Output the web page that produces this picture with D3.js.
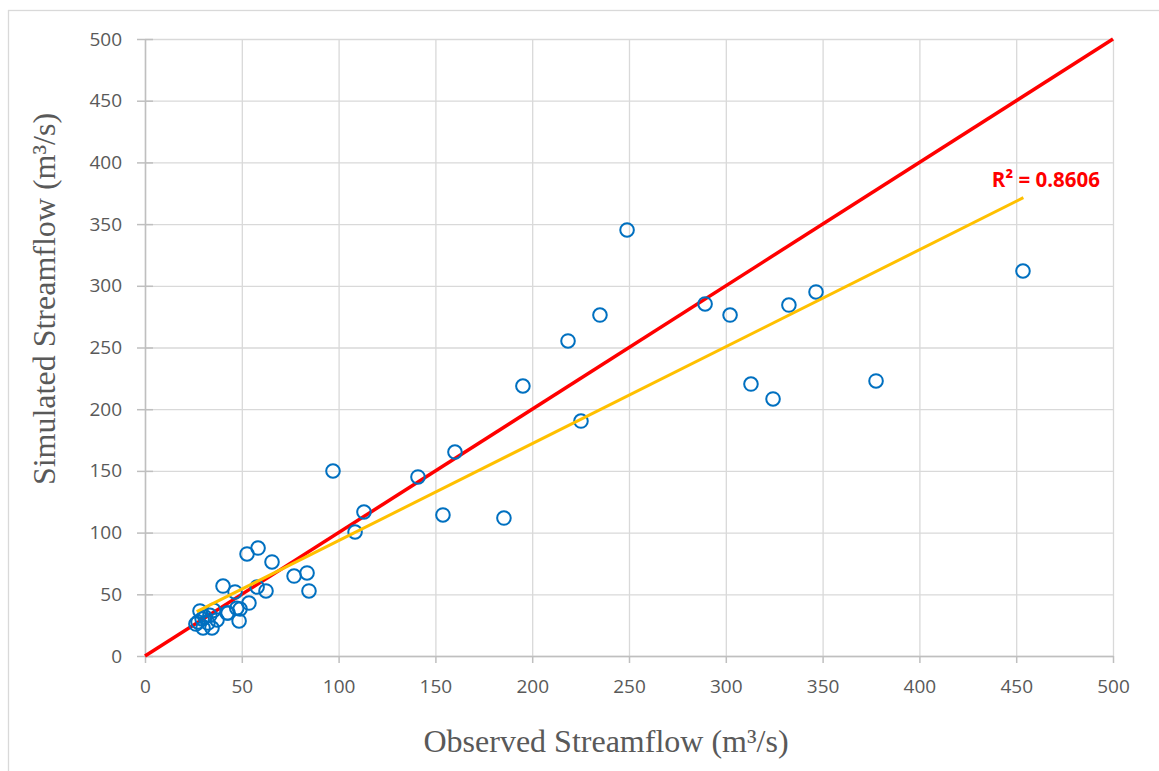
<!DOCTYPE html>
<html>
<head>
<meta charset="utf-8">
<script src="https://cdn.jsdelivr.net/npm/d3@7"></script>
<style>
  body { margin: 0; background: #fff; }
  .grid line { stroke: #d9d9d9; stroke-width: 1.3px; }
  .grid path { display: none; }
  .axis path, .axis line { stroke: #bfbfbf; stroke-width: 1.5px; }
  .axis text { fill: #595959; font-family: "Open Sans", sans-serif; font-size: 19px; }
</style>
</head>
<body>
<svg id="chart" width="1159" height="771"></svg>
<script>
// observed vs simulated streamflow (m3/s)
var observed  = [453.5, 377.6, 346.6, 332.6, 324.4, 313.0, 302.2, 289.3, 249.0, 235.0,
                 218.5, 225.2, 195.2, 185.4, 160.1, 153.9, 141.0, 113.1, 108.5,  97.1,
                  83.7,  84.7,  77.0,  65.6,  58.4,  52.7,  62.5,  57.9,  40.3,  46.5,
                  53.7,  49.1,  42.4,  48.6,  35.5,  28.4,  27.4,  26.3,  31.0,  32.5,
                  37.2,  30.0,  34.6,  42.9,  47.4,  33.5,  29.5];
var simulated = [312.0, 222.9, 295.0, 284.4, 208.3, 220.4, 276.3, 285.3, 345.2, 276.3,
                 255.3, 190.4, 218.8, 111.8, 165.3, 114.3, 145.1, 116.7, 100.5, 149.9,
                  67.3,  52.7,  64.8,  76.2,  87.5,  82.7,  52.7,  55.9,  56.7,  51.9,
                  42.9,  38.1,  34.8,  28.4,  37.0,  36.5,  27.6,  25.9,  31.6,  26.7,
                  29.2,  22.7,  22.7,  34.8,  38.7,  33.0,  30.0];

// 1:1 line and linear trendline ends
var oneToOneX = [0, 500], oneToOneY = [0, 500];
var trendX = [26.7, 453.7], trendY = [35.9, 371.4];
var rSquared = "0.8606";

var tickValues = d3.range(0, 501, 50);

var svg = d3.select("#chart");

var plotLeft = 145, plotRight = 1113, plotTop = 39, plotBottom = 656;

var x = d3.scaleLinear().domain([0, 500]).range([plotLeft, plotRight]);
var y = d3.scaleLinear().domain([0, 500]).range([plotBottom, plotTop]);

// outer frame
svg.append("rect")
    .attr("x", 8.5).attr("y", 10.5)
    .attr("width", 1200).attr("height", 800)
    .attr("fill", "none")
    .attr("stroke", "#d9d9d9")
    .attr("stroke-width", 1.3);

// gridlines
svg.append("g")
    .attr("class", "grid")
    .attr("transform", "translate(0," + plotBottom + ")")
    .call(d3.axisBottom(x).tickValues(tickValues).tickSize(-(plotBottom - plotTop)).tickFormat(""));

svg.append("g")
    .attr("class", "grid")
    .attr("transform", "translate(" + plotLeft + ",0)")
    .call(d3.axisLeft(y).tickValues(tickValues).tickSize(-(plotRight - plotLeft)).tickFormat(""));

// axes
svg.append("g")
    .attr("class", "axis")
    .attr("transform", "translate(0," + plotBottom + ")")
    .call(d3.axisBottom(x).tickValues(tickValues).tickSize(7).tickPadding(17).tickSizeOuter(0));

var yAxis = svg.append("g")
    .attr("class", "axis")
    .attr("transform", "translate(" + plotLeft + ",0)")
    .call(d3.axisLeft(y).tickValues(tickValues).tickSize(8).tickPadding(15).tickSizeOuter(0));
yAxis.selectAll(".tick line").attr("x1", 8);  // ticks cross the axis

var line = d3.line()
    .x(function(d) { return x(d[0]); })
    .y(function(d) { return y(d[1]); });

// 1:1 line
svg.append("path")
    .datum(d3.zip(oneToOneX, oneToOneY))
    .attr("d", line)
    .attr("fill", "none")
    .attr("stroke", "#ff0000")
    .attr("stroke-width", 3.5);

// points
svg.append("g").selectAll("circle")
    .data(d3.zip(observed, simulated))
    .enter()
    .append("circle")
        .attr("cx", function(d) { return x(d[0]); })
        .attr("cy", function(d) { return y(d[1]); })
        .attr("r", 6.8)
        .attr("fill", "none")
        .attr("stroke", "#0070c0")
        .attr("stroke-width", 2);

// trendline
svg.append("path")
    .datum(d3.zip(trendX, trendY))
    .attr("d", line)
    .attr("fill", "none")
    .attr("stroke", "#ffc000")
    .attr("stroke-width", 3);

svg.append("text")
    .attr("x", 1100)
    .attr("y", 187)
    .attr("text-anchor", "end")
    .attr("fill", "#ff0000")
    .style("font-family", "'Open Sans', sans-serif")
    .style("font-weight", "bold")
    .style("font-size", "20.5px")
    .text("R\u00b2 = " + rSquared);

// axis titles
svg.append("text")
    .attr("x", 606)
    .attr("y", 752)
    .attr("text-anchor", "middle")
    .attr("fill", "#595959")
    .style("font-family", "'Liberation Serif', serif")
    .style("font-size", "32px")
    .text("Observed Streamflow (m\u00b3/s)");

svg.append("text")
    .attr("transform", "translate(55,299) rotate(-90)")
    .attr("text-anchor", "middle")
    .attr("fill", "#595959")
    .style("font-family", "'Liberation Serif', serif")
    .style("font-size", "32px")
    .text("Simulated Streamflow (m\u00b3/s)");
</script>
</body>
</html>
